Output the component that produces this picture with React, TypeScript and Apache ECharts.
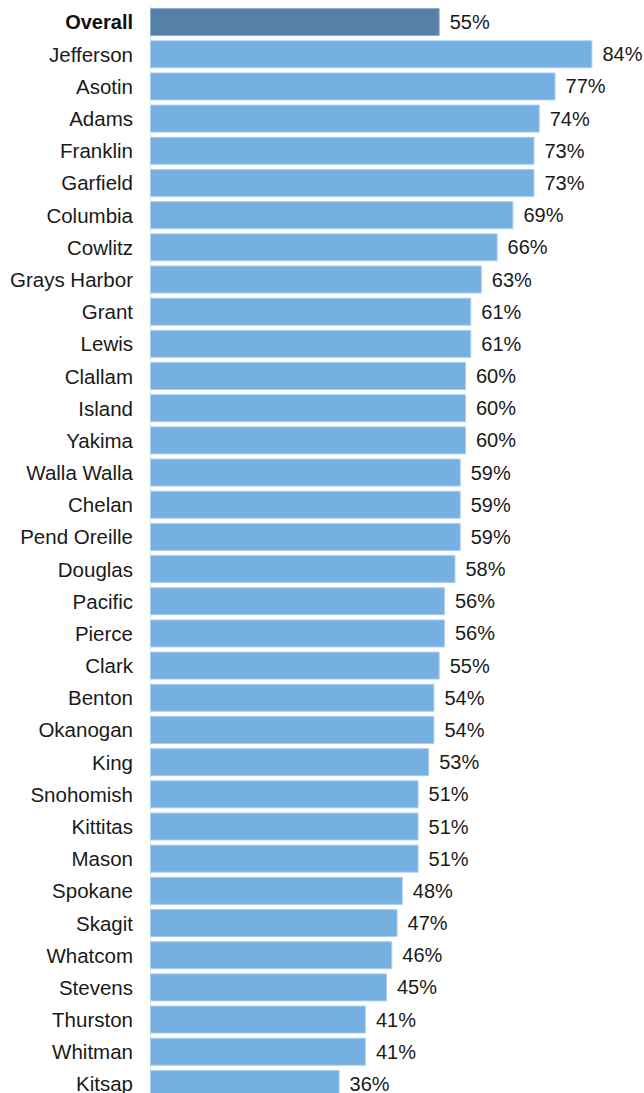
import React, { useEffect, useRef } from "react";
import * as echarts from "echarts";

const categories = [
  "Overall", "Jefferson", "Asotin", "Adams", "Franklin", "Garfield", "Columbia", "Cowlitz",
  "Grays Harbor", "Grant", "Lewis", "Clallam", "Island", "Yakima", "Walla Walla", "Chelan",
  "Pend Oreille", "Douglas", "Pacific", "Pierce", "Clark", "Benton", "Okanogan", "King",
  "Snohomish", "Kittitas", "Mason", "Spokane", "Skagit", "Whatcom", "Stevens", "Thurston",
  "Whitman", "Kitsap",
];
const values = [
  55, 84, 77, 74, 73, 73, 69, 66, 63, 61, 61, 60, 60, 60, 59, 59, 59, 58, 56, 56, 55, 54, 54, 53,
  51, 51, 51, 48, 47, 46, 45, 41, 41, 36,
];

export default function App() {
  const ref = useRef<HTMLDivElement>(null);
  useEffect(() => {
    if (!ref.current) return;
    const chart = echarts.init(ref.current, undefined, { renderer: "svg" });
    const data = values.map((v, i) => ({
      value: v,
      itemStyle:
        i === 0
          ? { color: "#5780a8", borderColor: "#8aaccb", borderWidth: 1 }
          : { color: "#76b0e3", borderColor: "#a9cff0", borderWidth: 1 },
    }));
    chart.setOption({
      animation: false,
      backgroundColor: "#ffffff",
      grid: { left: 150, right: 20, top: 6, height: 1094 },
      xAxis: {
        type: "value",
        min: 0,
        max: 90,
        show: false,
      },
      yAxis: {
        type: "category",
        data: categories,
        inverse: true,
        axisLine: { show: true, lineStyle: { color: "#e4e4e4", width: 1 } },
        axisTick: { show: false },
        axisLabel: {
          margin: 17,
          fontFamily: "Liberation Sans, Arial, sans-serif",
          fontSize: 20.5,
          color: "#1a1a1a",
          formatter: (v: string) => (v === "Overall" ? "{b|" + v + "}" : v),
          rich: {
            b: {
              fontFamily: "Liberation Sans, Arial, sans-serif",
              fontSize: 20,
              fontWeight: "bold",
              color: "#111",
            },
          },
        },
      },
      series: [
        {
          type: "bar",
          data,
          barCategoryGap: "13%",
          label: {
            show: true,
            position: "right",
            distance: 10,
            formatter: "{c}%",
            fontFamily: "Liberation Sans, Arial, sans-serif",
            fontSize: 20,
            color: "#1a1a1a",
          },
        },
      ],
    });
    return () => chart.dispose();
  }, []);
  return (
    <div
      ref={ref}
      style={{ position: "fixed", left: 0, top: 0, width: 644, height: 1110, background: "#fff" }}
    />
  );
}
